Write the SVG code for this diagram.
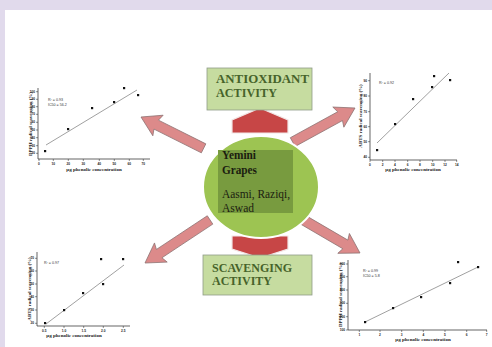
<svg xmlns="http://www.w3.org/2000/svg" width="492" height="347" viewBox="0 0 492 347">
<style>
.ax{fill:none;stroke:#222;stroke-width:0.7}
.tk{stroke:#222;stroke-width:0.5}
.fit{stroke:#777;stroke-width:0.7}
.pt{fill:#111}
.tl{font-family:"Liberation Sans",Arial,sans-serif;font-size:3.2px;font-weight:bold;fill:#222}
.ti{font-family:"Liberation Serif","Times New Roman",serif;font-size:5px;font-weight:bold;fill:#1a1a1a}
.an{font-family:"Liberation Sans",Arial,sans-serif;font-size:3.6px;fill:#333}
.box{fill:#c6dca0;stroke:#8f9c88;stroke-width:0.8}
.bt{font-family:"Liberation Serif","Times New Roman",serif;font-size:11.5px;font-weight:bold;fill:#46632a}
.pink{fill:#dc8a8a;stroke:#8a7070;stroke-width:0.7}
.red{fill:#c74646;stroke:#f2e6e6;stroke-width:1.2}
.ct{font-family:"Liberation Serif","Times New Roman",serif;font-size:12px;fill:#1b1d10}
</style>
<rect x="0" y="0" width="492" height="347" fill="#ffffff"/>
<rect x="0" y="0" width="492" height="10" fill="#e1daec"/>
<rect x="0" y="0" width="5" height="347" fill="#e1daec"/>

<g id="connectors">
<polygon class="pink" transform="translate(141,117) rotate(206.6)" points="0,0 -19,-11.5 -17,-5 -70,-5 -70,5 -17,5 -19,11.5"/>
<polygon class="pink" transform="translate(355,108) rotate(-28.7)" points="0,0 -19,-11.5 -17,-5 -71,-5 -71,5 -17,5 -19,11.5"/>
<polygon class="pink" transform="translate(145,263) rotate(146.5)" points="0,0 -19,-11.5 -17,-5 -78,-5 -78,5 -17,5 -19,11.5"/>
<polygon class="pink" transform="translate(360,253) rotate(30.3)" points="0,0 -19,-11.5 -17,-5 -70,-5 -70,5 -17,5 -19,11.5"/>
<polygon class="red" points="260,108 288,120 288,133 232,133 232,120"/>
<polygon class="red" points="232,236 288,236 288,249 260,258 232,249"/>
</g>

<g id="center">
<ellipse cx="261" cy="187" rx="58" ry="51" fill="#9dc452" stroke="#ffffff" stroke-width="2"/>
<rect x="218" y="150" width="75" height="63" fill="#789b3f"/>
<text class="ct" x="222" y="159" font-weight="bold" textLength="34" lengthAdjust="spacingAndGlyphs">Yemini</text>
<text class="ct" x="222" y="174" font-weight="bold" textLength="35" lengthAdjust="spacingAndGlyphs">Grapes</text>
<text class="ct" x="222" y="198" textLength="68" lengthAdjust="spacingAndGlyphs">Aasmi, Raziqi,</text>
<text class="ct" x="222" y="212" textLength="32" lengthAdjust="spacingAndGlyphs">Aswad</text>
</g>

<g id="antioxidant">
<rect class="box" x="207" y="68" width="105" height="42"/>
<text class="bt" x="216" y="83" textLength="93" lengthAdjust="spacingAndGlyphs">ANTIOXIDANT</text>
<text class="bt" x="216" y="97" textLength="61" lengthAdjust="spacingAndGlyphs">ACTIVITY</text>
</g>

<g id="scavenging">
<rect class="box" x="203" y="255" width="109" height="40"/>
<text class="bt" x="212" y="272" textLength="80" lengthAdjust="spacingAndGlyphs">SCAVENGING</text>
<text class="bt" x="212" y="285" textLength="60" lengthAdjust="spacingAndGlyphs">ACTIVITY</text>
</g>

<g id="chart1">
<path class="ax" d="M38,88 V159 H150"/>
<g class="tk">
<path d="M36,91.7h2M36,99.3h2M36,106.7h2M36,114.3h2M36,122.3h2M36,130h2M36,137.7h2M36,145.7h2M36,153.3h2"/>
<path d="M39,159v2M53.3,159v2M68.3,159v2M83.3,159v2M99.3,159v2M114.3,159v2M129.3,159v2M143.3,159v2"/>
</g>
<g class="tl" text-anchor="end">
<text x="35" y="92.7">100</text><text x="35" y="100.3">90</text><text x="35" y="107.7">80</text><text x="35" y="115.3">70</text><text x="35" y="123.3">60</text><text x="35" y="131">50</text><text x="35" y="138.7">40</text><text x="35" y="146.7">30</text><text x="35" y="154.3">20</text>
</g>
<g class="tl" text-anchor="middle">
<text x="39" y="164.5">0</text><text x="53.3" y="164.5">10</text><text x="68.3" y="164.5">20</text><text x="83.3" y="164.5">30</text><text x="99.3" y="164.5">40</text><text x="114.3" y="164.5">50</text><text x="129.3" y="164.5">60</text><text x="143.3" y="164.5">70</text>
</g>
<line class="fit" x1="46" y1="145" x2="137" y2="90"/>
<g class="pt">
<rect x="44" y="150" width="2.2" height="2.2"/><rect x="67" y="128" width="2.2" height="2.2"/><rect x="91" y="107" width="2.2" height="2.2"/><rect x="113" y="101" width="2.2" height="2.2"/><rect x="123" y="87" width="2.2" height="2.2"/><rect x="137" y="94" width="2.2" height="2.2"/>
</g>
<text class="an" x="48" y="101">R² = 0.93</text>
<text class="an" x="48" y="105.5">IC50 = 56.2</text>
<text class="ti" transform="translate(32,124) rotate(-90)" text-anchor="middle">DPPH radical scavenging (%)</text>
<text class="ti" x="94" y="170.5" text-anchor="middle">µg phenolic concentration</text>
</g>

<g id="chart2">
<path class="ax" d="M370,73 V160 H457"/>
<g class="tk">
<path d="M368,80.7h2M368,96h2M368,111.7h2M368,126.7h2M368,141.7h2M368,157.3h2"/>
<path d="M370,160v2M382.7,160v2M395,160v2M407.7,160v2M420,160v2M432.7,160v2M445,160v2M456.7,160v2"/>
</g>
<g class="tl" text-anchor="end">
<text x="367" y="81.7">90</text><text x="367" y="97">80</text><text x="367" y="112.7">70</text><text x="367" y="127.7">60</text><text x="367" y="142.7">50</text><text x="367" y="158.3">40</text>
</g>
<g class="tl" text-anchor="middle">
<text x="370" y="165.5">0</text><text x="382.7" y="165.5">2</text><text x="395" y="165.5">4</text><text x="407.7" y="165.5">6</text><text x="420" y="165.5">8</text><text x="432.7" y="165.5">10</text><text x="445" y="165.5">12</text><text x="456.7" y="165.5">14</text>
</g>
<line class="fit" x1="377" y1="143" x2="449" y2="73"/>
<g class="pt">
<rect x="376" y="149" width="2.2" height="2.2"/><rect x="394" y="123" width="2.2" height="2.2"/><rect x="412" y="98" width="2.2" height="2.2"/><rect x="431" y="86" width="2.2" height="2.2"/><rect x="433" y="75" width="2.2" height="2.2"/><rect x="449" y="79" width="2.2" height="2.2"/>
</g>
<text class="an" x="379" y="84">R² = 0.92</text>
<text class="ti" transform="translate(362,116) rotate(-90)" text-anchor="middle">ABTS radical scavenging (%)</text>
<text class="ti" x="413" y="171" text-anchor="middle">µg phenolic concentration</text>
</g>

<g id="chart3">
<path class="ax" d="M37,252 V326 H130"/>
<g class="tk">
<path d="M35,258.3h2M35,271h2M35,284h2M35,296.7h2M35,310h2M35,323.3h2"/>
<path d="M44.3,326v2M64,326v2M83.7,326v2M103.3,326v2M123.3,326v2"/>
</g>
<g class="tl" text-anchor="end">
<text x="34" y="259.3">70</text><text x="34" y="272">60</text><text x="34" y="285">50</text><text x="34" y="297.7">40</text><text x="34" y="311">30</text><text x="34" y="324.3">20</text>
</g>
<g class="tl" text-anchor="middle">
<text x="44.3" y="331.5">0.5</text><text x="64" y="331.5">1.0</text><text x="83.7" y="331.5">1.5</text><text x="103.3" y="331.5">2.0</text><text x="123.3" y="331.5">2.5</text>
</g>
<line class="fit" x1="46" y1="324" x2="124" y2="265"/>
<g class="pt">
<rect x="44" y="322" width="2.2" height="2.2"/><rect x="63" y="309" width="2.2" height="2.2"/><rect x="82" y="292" width="2.2" height="2.2"/><rect x="100" y="258" width="2.2" height="2.2"/><rect x="102" y="283" width="2.2" height="2.2"/><rect x="122" y="258" width="2.2" height="2.2"/>
</g>
<text class="an" x="44" y="264">R² = 0.97</text>
<text class="ti" transform="translate(31,289) rotate(-90)" text-anchor="middle">ABTS radical scavenging (%)</text>
<text class="ti" x="74" y="337" text-anchor="middle">µg phenolic concentration</text>
</g>

<g id="chart4">
<path class="ax" d="M348,260 V330 H487"/>
<g class="tk">
<path d="M346,264h2M346,276.7h2M346,290h2M346,303.3h2M346,316.7h2M346,330h2"/>
<path d="M359.3,330v2M380,330v2M401.7,330v2M423.3,330v2M445,330v2M466.7,330v2M486.7,330v2"/>
</g>
<g class="tl" text-anchor="end">
<text x="345" y="265">600</text><text x="345" y="277.7">500</text><text x="345" y="291">400</text><text x="345" y="304.3">300</text><text x="345" y="317.7">200</text><text x="345" y="331">100</text>
</g>
<g class="tl" text-anchor="middle">
<text x="359.3" y="335.5">1</text><text x="380" y="335.5">2</text><text x="401.7" y="335.5">3</text><text x="423.3" y="335.5">4</text><text x="445" y="335.5">5</text><text x="466.7" y="335.5">6</text><text x="486.7" y="335.5">7</text>
</g>
<line class="fit" x1="365" y1="322" x2="478" y2="267"/>
<g class="pt">
<rect x="364" y="321" width="2.2" height="2.2"/><rect x="392" y="307" width="2.2" height="2.2"/><rect x="420" y="296" width="2.2" height="2.2"/><rect x="449" y="282" width="2.2" height="2.2"/><rect x="457" y="261" width="2.2" height="2.2"/><rect x="477" y="266" width="2.2" height="2.2"/>
</g>
<text class="an" x="363" y="272">R² = 0.99</text>
<text class="an" x="363" y="276.5">IC50 = 5.8</text>
<text class="ti" transform="translate(342,295) rotate(-90)" text-anchor="middle">DPPH radical scavenging (%)</text>
<text class="ti" x="423" y="341" text-anchor="middle">µg phenolic concentration</text>
</g>
</svg>
